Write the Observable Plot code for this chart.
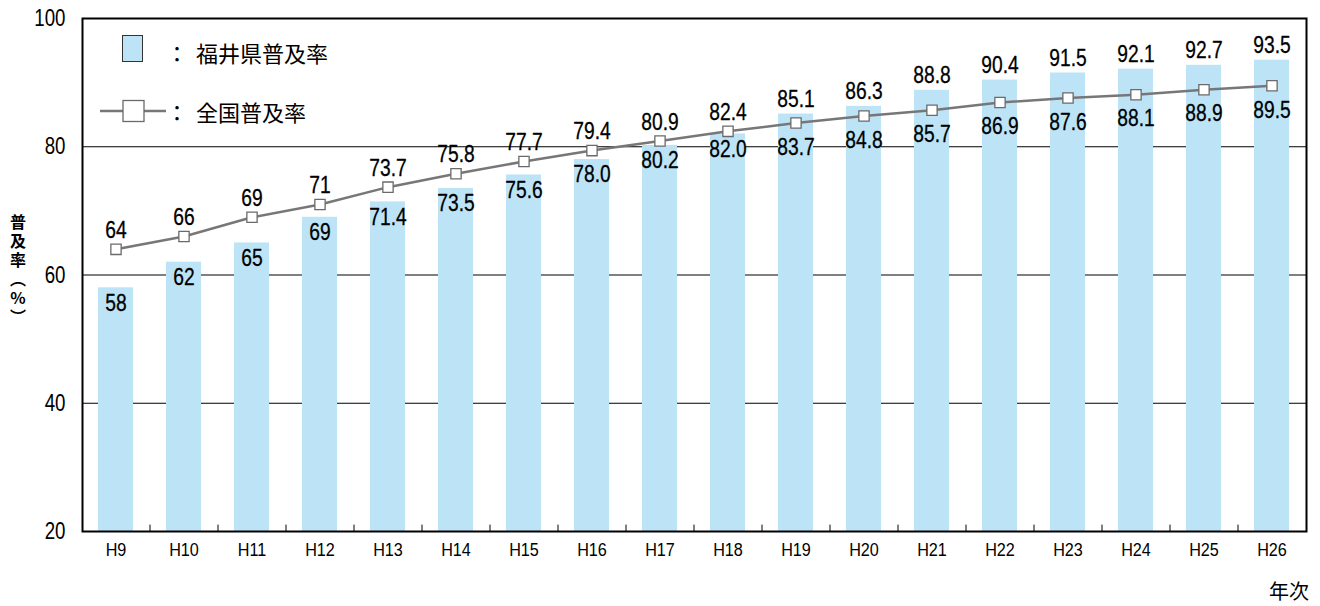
<!DOCTYPE html>
<html><head><meta charset="utf-8">
<script src="https://cdn.jsdelivr.net/npm/d3@7"></script>
<script src="https://cdn.jsdelivr.net/npm/@observablehq/plot@0.6"></script>
<style>
body{margin:0;background:#fff;}
#wrap{position:relative;width:1320px;height:606px;}
.lg{position:absolute;font-family:"Noto Sans CJK JP",sans-serif;font-size:22px;color:#000;line-height:1;white-space:nowrap;}
.ytitle{position:absolute;left:9px;top:214px;font-family:"Noto Sans CJK JP",sans-serif;font-size:16px;font-weight:bold;line-height:18px;writing-mode:vertical-rl;text-orientation:upright;letter-spacing:3px;}
</style></head>
<body><div id="wrap"></div>
<script>
const years = ["H9","H10","H11","H12","H13","H14","H15","H16","H17","H18","H19","H20","H21","H22","H23","H24","H25","H26"];
const fukui = [58,62,65,69,71.4,73.5,75.6,78.0,80.2,82.0,85.1,86.3,88.8,90.4,91.5,92.1,92.7,93.5];
const national = [64,66,69,71,73.7,75.8,77.7,79.4,80.9,82.4,83.7,84.8,85.7,86.9,87.6,88.1,88.9,89.5];
const yTicks = [20,40,60,80,100];
const gridValues = [40,60,80];
const integerLabelCount = 4; // H9–H12 labelled without decimals

const W = 1320, H = 606, mL = 82, mR = 14, mT = 18, mB = 75;
const step = (W - mL - mR) / years.length;
const fmt = (v, i) => i < integerLabelCount ? String(Math.round(v)) : v.toFixed(1);

const rows = years.map((y, i) => ({year: y, i, fukui: fukui[i], national: national[i]}));
const barLabels = rows.map(d => ({...d, v: d.fukui, above: d.fukui > d.national}));
const lineLabels = rows.map(d => ({...d, v: d.national, above: d.national >= d.fukui}));

const lblOpts = {x: "year", y: "v", text: d => fmt(d.v, d.i), fontSize: 24, fill: "#000", stroke: "#000", strokeWidth: 0.3};

const chart = Plot.plot({
  width: W, height: H,
  marginLeft: mL, marginRight: mR, marginTop: mT, marginBottom: mB,
  style: {background: "#fff", color: "#000", fontFamily: "'Liberation Sans', Arial, sans-serif"},
  x: {domain: years, paddingInner: 0.485, paddingOuter: 0.2425, label: null},
  y: {domain: [20, 100], label: null},
  marks: [
    Plot.ruleY(gridValues, {stroke: "#000", strokeWidth: 1}),
    Plot.barY(rows, {x: "year", y1: 20, y2: "fukui", fill: "#bde3f7"}),
    Plot.ruleX(years.slice(0, -1), {x: d => d, dx: step / 2, y1: 20, y2: 21, stroke: "#000", strokeWidth: 1}),
    Plot.line(rows, {x: "year", y: "national", stroke: "#777", strokeWidth: 2.5}),
    Plot.dot(rows, {x: "year", y: "national", symbol: "square", r: 5.8, fill: "#fff", stroke: "#6a6a6a", strokeWidth: 1.3}),
    Plot.text(barLabels.filter(d => !d.above), {...lblOpts, dy: 15}),
    Plot.text(barLabels.filter(d => d.above), {...lblOpts, dy: -15}),
    Plot.text(lineLabels.filter(d => d.above), {...lblOpts, dy: -19}),
    Plot.text(lineLabels.filter(d => !d.above), {...lblOpts, dy: 24}),
    Plot.axisY({ticks: yTicks, tickSize: 0, tickPadding: 17, fontSize: 24, label: null}),
    Plot.axisX({tickSize: 0, tickPadding: 12, fontSize: 18, label: null}),
    Plot.frame({stroke: "#000", strokeWidth: 2})
  ]
});
const wrap = document.getElementById("wrap");
wrap.appendChild(chart);

// condense the Latin digits to match the narrow face of the original
const squeeze = {"y-axis tick label": 0.78, "x-axis tick label": 0.9, "text": 0.8};
d3.select(chart).selectAll("text").each(function() {
  const g = this.closest("g[aria-label]");
  const k = g ? squeeze[g.getAttribute("aria-label")] : undefined;
  const w = this.getComputedTextLength();
  if (k && w > 0) {
    this.setAttribute("textLength", (w * k).toFixed(1));
    this.setAttribute("lengthAdjust", "spacingAndGlyphs");
  }
});

// y-axis title (vertical)
const yt = document.createElement("div");
yt.className = "ytitle";
yt.textContent = "普及率（%）";
wrap.appendChild(yt);

// legend
const lg1box = document.createElement("div");
lg1box.style.cssText = "position:absolute;left:122px;top:35px;width:19px;height:25px;background:#bde3f7;border:1.3px solid #333;";
wrap.appendChild(lg1box);
const addText = (txt, left, top, size) => {
  const e = document.createElement("div");
  e.className = "lg"; e.style.left = left + "px"; e.style.top = top + "px";
  if (size) e.style.fontSize = size + "px";
  e.textContent = txt; wrap.appendChild(e);
};
addText("：", 166, 41);
addText("福井県普及率", 196, 41);

const ns = "http://www.w3.org/2000/svg";
const ls = document.createElementNS(ns, "svg");
ls.setAttribute("width", 80); ls.setAttribute("height", 30);
ls.style.cssText = "position:absolute;left:96px;top:96px;";
ls.innerHTML = '<line x1="4" y1="15" x2="70" y2="15" stroke="#777" stroke-width="2.5"/><rect x="27" y="4.5" width="21" height="21" fill="#fff" stroke="#6a6a6a" stroke-width="1.3"/>';
wrap.appendChild(ls);
addText("：", 166, 100);
addText("全国普及率", 196, 100);

addText("年次", 1269, 581, 20);
</script>
</body></html>
